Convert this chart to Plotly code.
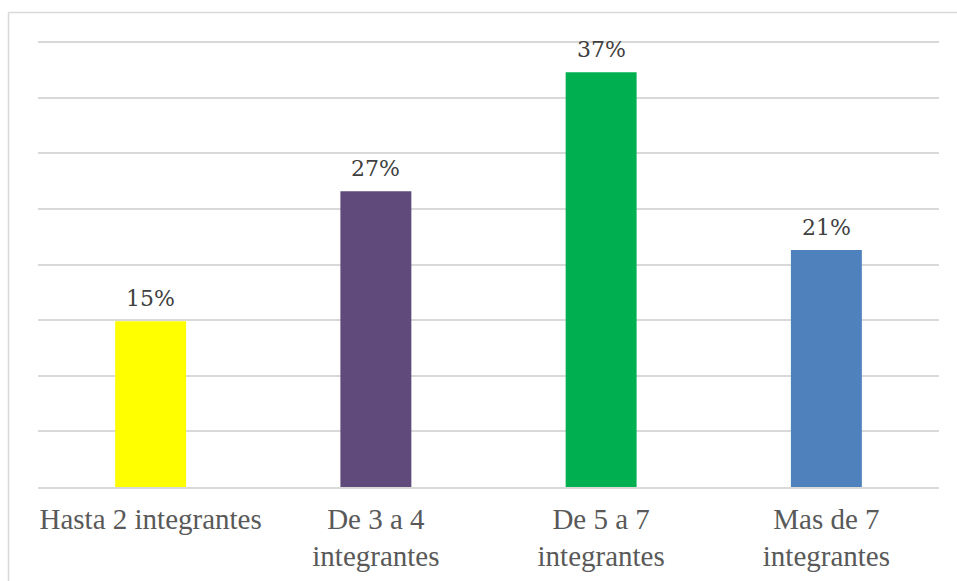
import plotly.graph_objects as go

categories = ["Hasta 2 integrantes", "De 3 a 4<br>integrantes", "De 5 a 7<br>integrantes", "Mas de 7<br>integrantes"]
values = [14.9, 26.6, 37.3, 21.3]
labels = ["15%", "27%", "37%", "21%"]
colors = ["#FFFF00", "#604A7B", "#00B050", "#4F81BD"]

W, H = 957, 581
ml, mr, mt, mb = 38, 18, 41, 94
pw, ph = W - ml - mr, H - mt - mb

TICKFONT = "Liberation Serif"
LABELFONT = "DejaVu Serif"

fig = go.Figure()
fig.add_trace(go.Bar(x=categories, y=values, marker=dict(color=colors, line=dict(width=0)),
                     hoverinfo="skip"))

for c, v, t in zip(categories, values, labels):
    fig.add_annotation(x=c, y=v, text=t, showarrow=False, yanchor="bottom", yshift=8,
                       font=dict(family=LABELFONT, size=22, color="#404040"))

def px_x(p):
    return (p - ml) / pw

def px_y(p):
    return (H - mb - p) / ph

border = dict(color="#D9D9D9", width=1.5)
fig.add_shape(type="line", xref="paper", yref="paper", x0=px_x(8.5), x1=px_x(W + 5),
              y0=px_y(12.5), y1=px_y(12.5), line=border)
fig.add_shape(type="line", xref="paper", yref="paper", x0=px_x(8.5), x1=px_x(8.5),
              y0=px_y(12.5), y1=px_y(H + 5), line=border)

fig.update_layout(
    width=W, height=H,
    margin=dict(l=ml, r=mr, t=mt, b=mb),
    paper_bgcolor="white", plot_bgcolor="white",
    bargap=0.685,
    showlegend=False,
    xaxis=dict(showgrid=False, showline=True, linecolor="#D9D9D9", linewidth=1.5,
               ticks="", ticklabelstandoff=5,
               tickfont=dict(family=TICKFONT, size=29, color="#595959"),
               fixedrange=True, automargin=False),
    yaxis=dict(range=[0, 40.1], dtick=5, showgrid=True, gridcolor="#D9D9D9", gridwidth=1.5,
               showticklabels=False, zeroline=False, ticks="", fixedrange=True),
)

fig.write_html("out.html", config={"displayModeBar": False})
